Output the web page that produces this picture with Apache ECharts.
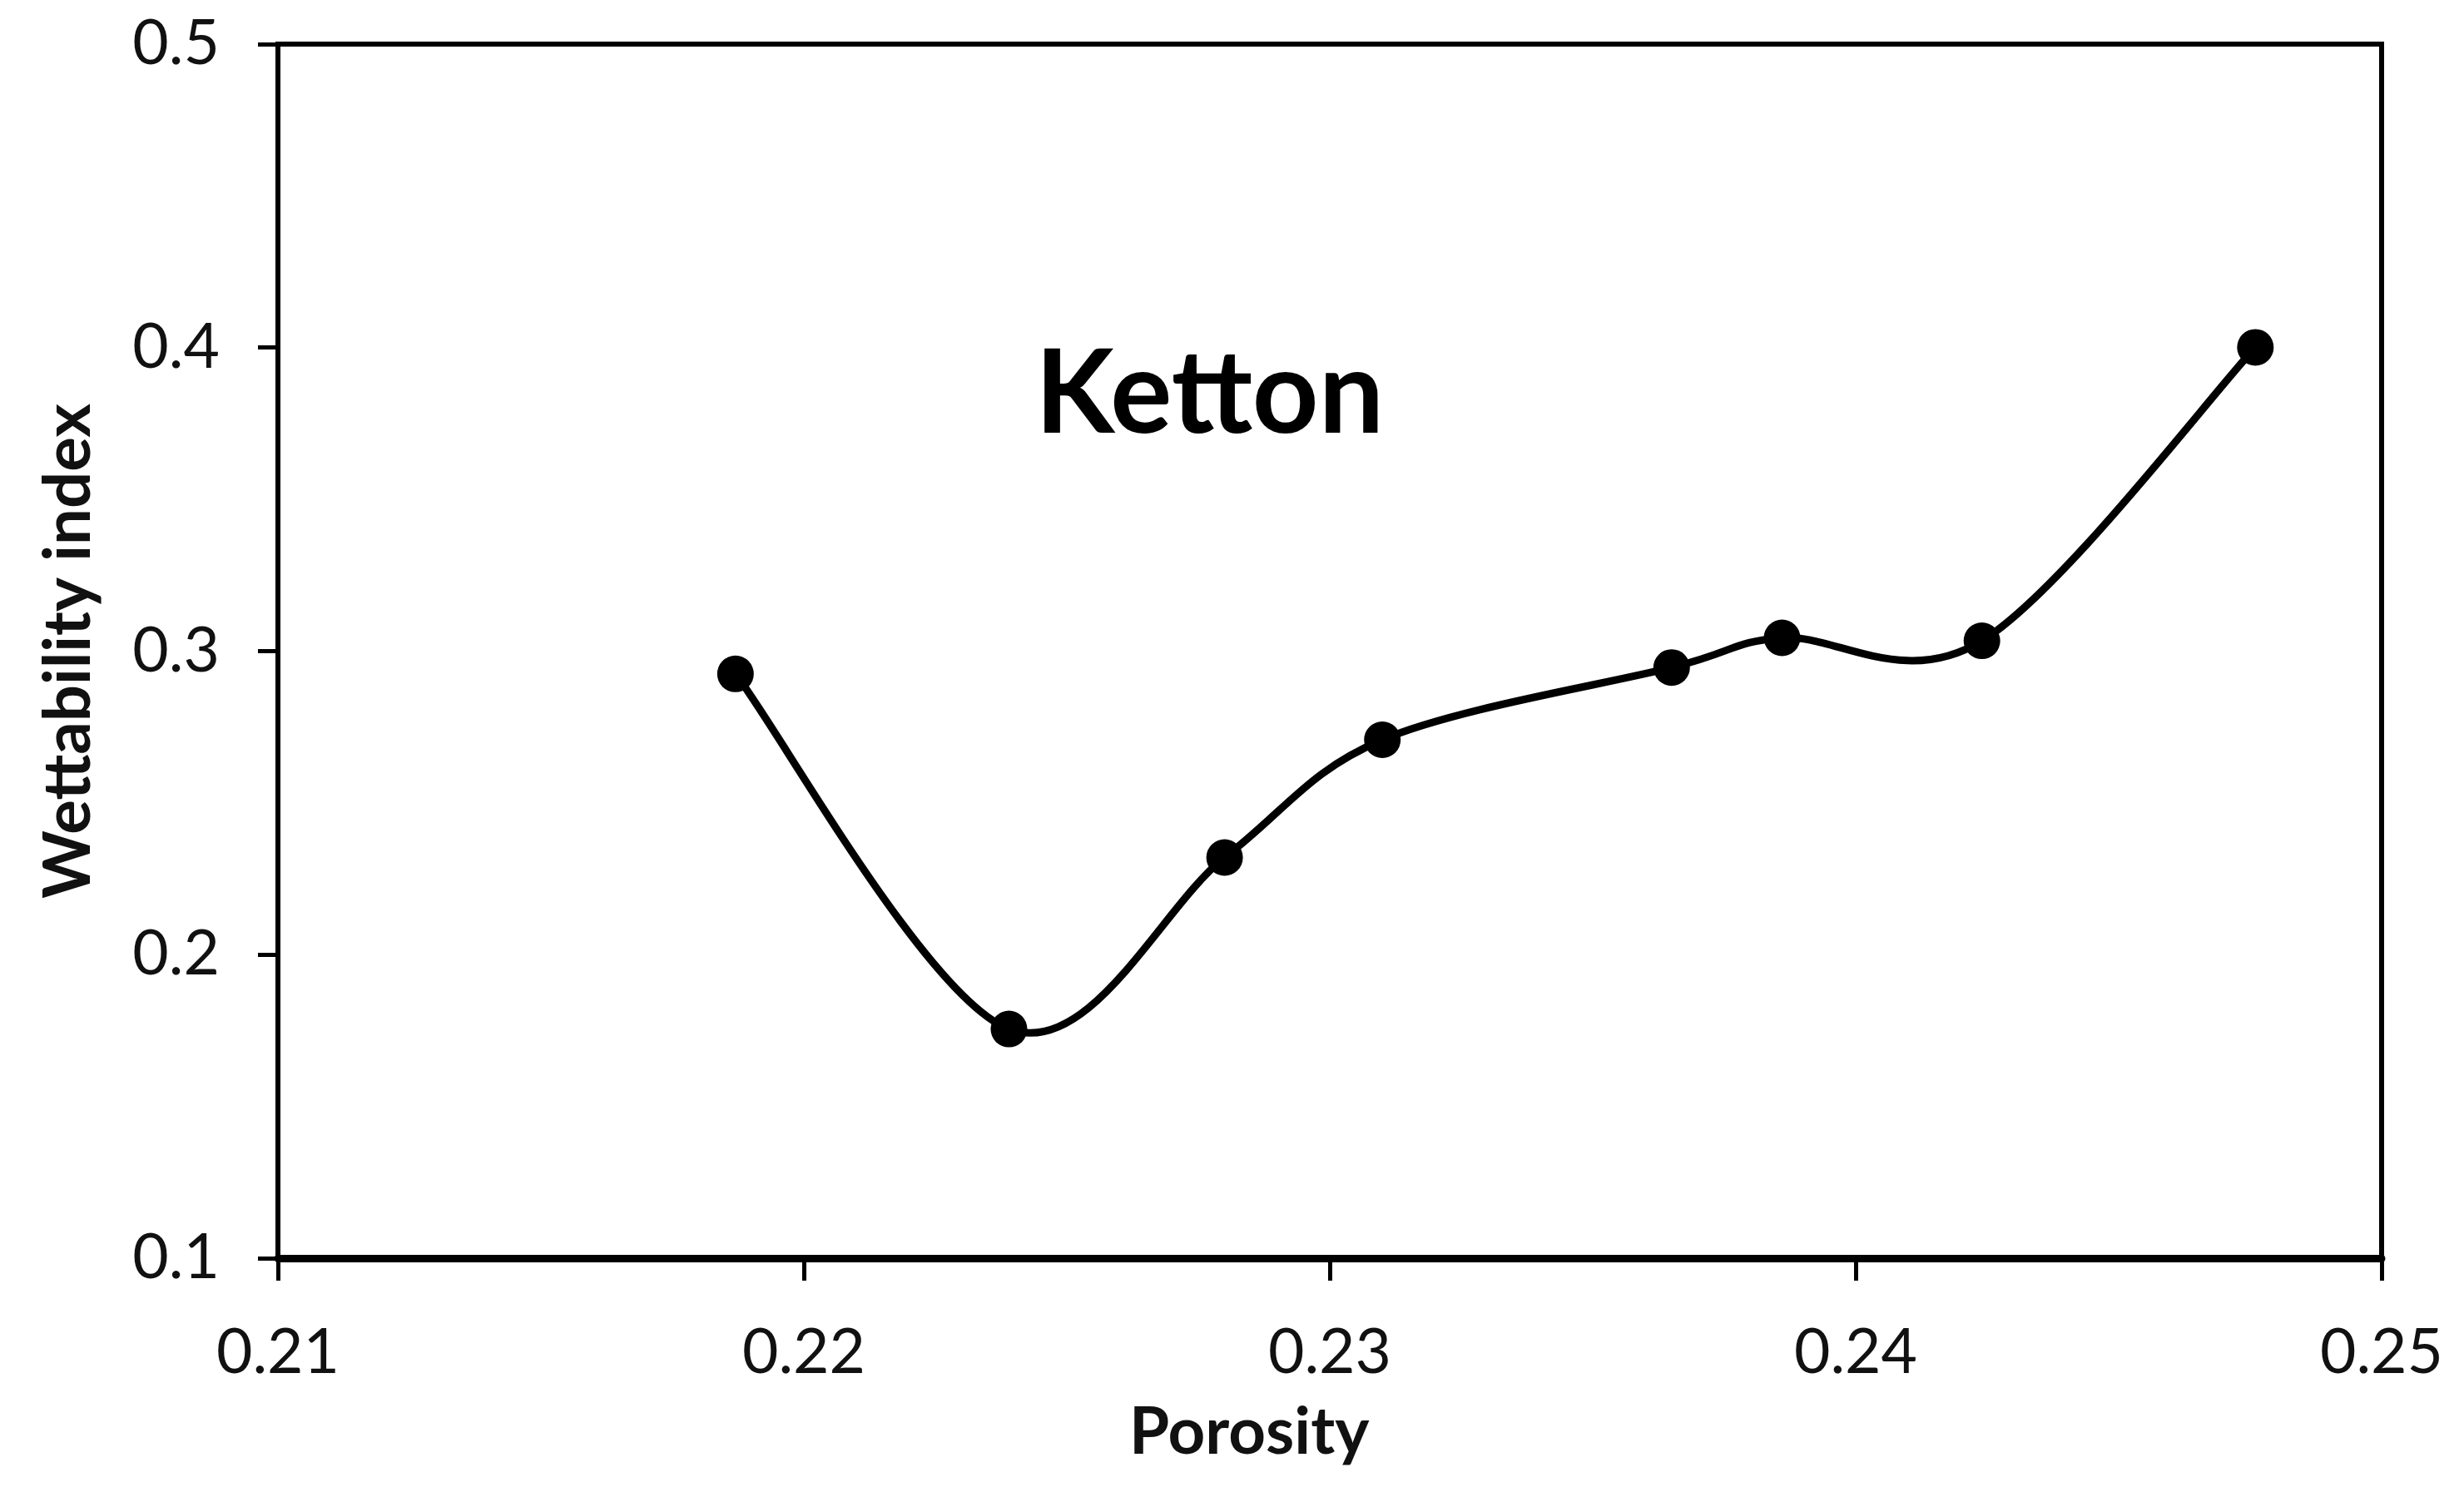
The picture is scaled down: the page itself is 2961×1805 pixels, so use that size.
<!DOCTYPE html>
<html>
<head>
<meta charset="utf-8">
<script src="https://cdn.jsdelivr.net/npm/echarts@6/dist/echarts.min.js"></script>
<style>
html,body{margin:0;padding:0;background:#fff;}
#chart{width:2961px;height:1805px;}
</style>
</head>
<body>
<div id="chart"></div>
<script>
const porosity = [0.2187, 0.2239, 0.2280, 0.2310, 0.2365, 0.2386, 0.2424, 0.2476];
const wettability = [0.2925, 0.1755, 0.2320, 0.2708, 0.2946, 0.3044, 0.3034, 0.4001];
const xTicks = [0.21, 0.22, 0.23, 0.24, 0.25];
const yTicks = [0.1, 0.2, 0.3, 0.4, 0.5];
const chartLabel = 'Ketton';
const xTitle = 'Porosity';
const yTitle = 'Wettability index';

const points = porosity.map((x, i) => [x, wettability[i]]);
const FONT = 'Lato, "Open Sans", sans-serif';

// Excel-like smoothed line: Catmull-Rom style cubic Bezier segments, computed in pixel space
function renderSegment(params, api) {
  const i = params.dataIndex;
  const n = points.length;
  if (i >= n - 1) return null;
  const P = points.map(p => api.coord(p));
  const p0 = P[Math.max(i - 1, 0)];
  const p1 = P[i];
  const p2 = P[i + 1];
  const p3 = P[Math.min(i + 2, n - 1)];
  const k = 1 / 6;
  return {
    type: 'bezierCurve',
    shape: {
      x1: p1[0], y1: p1[1],
      cpx1: p1[0] + (p2[0] - p0[0]) * k, cpy1: p1[1] + (p2[1] - p0[1]) * k,
      cpx2: p2[0] - (p3[0] - p1[0]) * k, cpy2: p2[1] - (p3[1] - p1[1]) * k,
      x2: p2[0], y2: p2[1]
    },
    style: { stroke: '#000', fill: null, lineWidth: 9, lineCap: 'round' },
    silent: true
  };
}

const chart = echarts.init(document.getElementById('chart'));
chart.setOption({
  backgroundColor: '#fff',
  animation: false,
  grid: {
    left: 334, right: 99, top: 53, bottom: 293,
    show: true, borderColor: '#000', borderWidth: 6, backgroundColor: 'transparent'
  },
  xAxis: {
    type: 'value',
    min: xTicks[0], max: xTicks[xTicks.length - 1], interval: 0.01,
    axisLine: { show: true, lineStyle: { color: '#000', width: 9 } },
    axisTick: { show: true, inside: false, length: 27, lineStyle: { color: '#000', width: 5 } },
    splitLine: { show: false },
    axisLabel: {
      margin: 76, color: '#111', fontFamily: FONT, fontSize: 75,
      formatter: v => v.toFixed(2)
    }
  },
  yAxis: {
    type: 'value',
    min: yTicks[0], max: yTicks[yTicks.length - 1], interval: 0.1,
    axisLine: { show: true, lineStyle: { color: '#000', width: 6 } },
    axisTick: { show: true, inside: false, length: 24, lineStyle: { color: '#000', width: 5 } },
    splitLine: { show: false },
    axisLabel: {
      margin: 70, color: '#111', fontFamily: FONT, fontSize: 75,
      formatter: v => v.toFixed(1)
    },
    name: yTitle,
    nameLocation: 'middle',
    nameGap: 212,
    nameTextStyle: { color: '#111', fontFamily: FONT, fontSize: 78, fontWeight: 'bold' }
  },
  graphic: [
    {
      type: 'text', left: 1507 - 150, top: 1731 - 48,
      style: { text: xTitle, fill: '#111', font: 'bold 78px ' + FONT }
    },
    {
      type: 'text', left: 1244, top: 476 - 70,
      style: { text: chartLabel, fill: '#000', font: 'bold 139px ' + FONT }
    }
  ],
  series: [
    {
      type: 'custom',
      data: points,
      renderItem: renderSegment,
      z: 2
    },
    {
      type: 'scatter',
      data: points,
      symbol: 'circle',
      symbolSize: 44,
      itemStyle: { color: '#000', opacity: 1 },
      emphasis: { disabled: true },
      z: 3
    }
  ]
});
</script>
</body>
</html>
